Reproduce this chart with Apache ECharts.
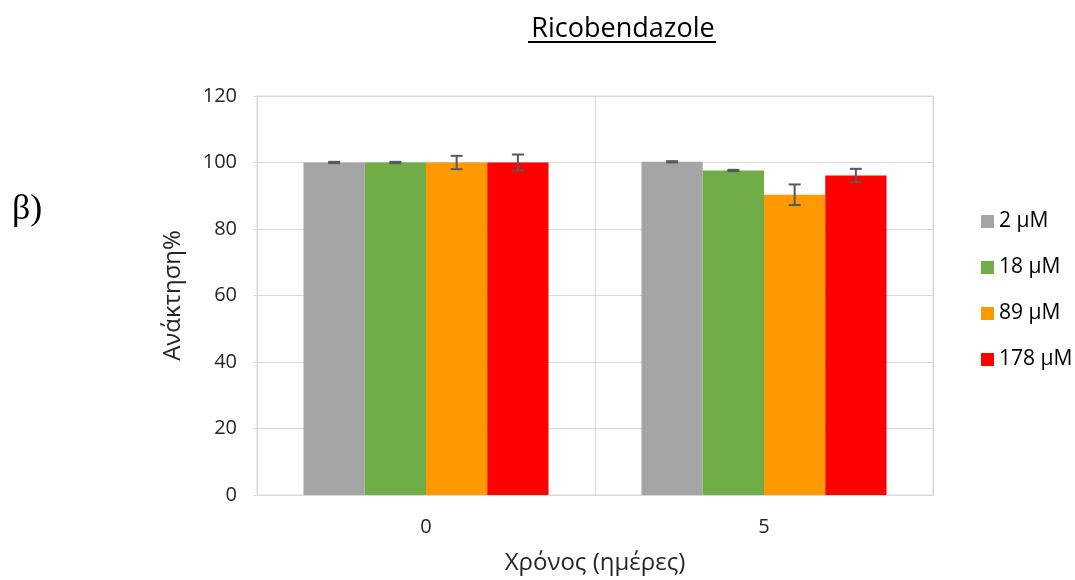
<!DOCTYPE html>
<html>
<head>
<meta charset="utf-8">
<script src="https://cdn.jsdelivr.net/npm/echarts@6/dist/echarts.min.js"></script>
<style>
  html, body { margin: 0; padding: 0; background: #fff; }
  #chart { width: 1075px; height: 580px; }
</style>
</head>
<body>
<div id="chart"></div>
<script>
// Recovery (%) of ricobendazole at each concentration over time
const days = ['0', '5'];
const seriesNames = ['2 μM', '18 μM', '89 μM', '178 μM'];
const recovery2 = [100.0, 100.2];
const recovery18 = [100.0, 97.6];
const recovery89 = [100.0, 90.3];
const recovery178 = [100.0, 96.1];
const error2 = [0.2, 0.2];
const error18 = [0.2, 0.2];
const error89 = [2.0, 3.1];
const error178 = [2.4, 2.0];
const yTicks = [0, 20, 40, 60, 80, 100, 120];

const values = [recovery2, recovery18, recovery89, recovery178];
const errors = [error2, error18, error89, error178];
const colors = ['#a5a5a5', '#70ad47', '#ff9900', '#ff0000'];
const categoryGap = 0.275;

const chart = echarts.init(document.getElementById('chart'));

const barSeries = seriesNames.map((name, i) => ({
  name: name,
  type: 'bar',
  data: values[i],
  barGap: '0%',
  barCategoryGap: (categoryGap * 100) + '%',
  itemStyle: { color: colors[i] },
  z: 2
}));

// Error whiskers drawn over each bar
const errorSeries = seriesNames.map((name, i) => ({
  name: name + ' err',
  type: 'custom',
  data: values[i].map((v, k) => [k, v - errors[i][k], v + errors[i][k]]),
  z: 5,
  silent: true,
  renderItem: function (params, api) {
    const band = api.size([1, 0])[0];
    const groupW = band * (1 - categoryGap);
    const barW = groupW / seriesNames.length;
    const off = -groupW / 2 + barW * (i + 0.5);
    const lo = api.coord([api.value(0), api.value(1)]);
    const hi = api.coord([api.value(0), api.value(2)]);
    const x = lo[0] + off;
    const cap = 6;
    const style = { stroke: '#595959', lineWidth: 2 };
    return {
      type: 'group',
      children: [
        { type: 'line', shape: { x1: x, y1: lo[1], x2: x, y2: hi[1] }, style: style },
        { type: 'line', shape: { x1: x - cap, y1: lo[1], x2: x + cap, y2: lo[1] }, style: style },
        { type: 'line', shape: { x1: x - cap, y1: hi[1], x2: x + cap, y2: hi[1] }, style: style }
      ]
    };
  }
}));

chart.setOption({
  animation: false,
  textStyle: { fontFamily: 'Open Sans' },
  title: {
    text: 'Ricobendazole',
    left: 618,
    textAlign: 'center',
    top: 11,
    textStyle: { fontFamily: 'Open Sans', fontSize: 27, fontWeight: 'normal', color: '#000' }
  },
  graphic: [
    { type: 'line', shape: { x1: 528, y1: 42, x2: 716, y2: 42 }, style: { stroke: '#000', lineWidth: 2 } },
    {
      type: 'text', left: 12, top: 192,
      style: { text: 'β)', font: '36px "Liberation Serif"', fill: '#000' }
    }
  ],
  legend: {
    orient: 'vertical',
    left: 976,
    top: 206,
    itemGap: 25,
    itemWidth: 13,
    itemHeight: 13,
    icon: 'rect',
    data: seriesNames,
    textStyle: { fontSize: 21, color: '#000', fontFamily: 'Open Sans' }
  },
  grid: {
    left: 257, right: 142, top: 96, bottom: 84,
    show: true, borderColor: '#d9d9d9', borderWidth: 1
  },
  xAxis: {
    type: 'category',
    data: days,
    name: 'Χρόνος (ημέρες)',
    nameLocation: 'middle',
    nameGap: 56,
    nameTextStyle: { fontSize: 24, color: '#262626' },
    axisLine: { lineStyle: { color: '#d9d9d9' } },
    axisTick: { show: false },
    splitLine: { show: true, lineStyle: { color: '#d9d9d9' } },
    axisLabel: { fontSize: 20, color: '#262626', margin: 22 }
  },
  yAxis: {
    type: 'value',
    min: yTicks[0],
    max: yTicks[yTicks.length - 1],
    interval: 20,
    name: 'Ανάκτηση%',
    nameLocation: 'middle',
    nameGap: 72,
    nameTextStyle: { fontSize: 24, color: '#262626' },
    axisLine: { show: true, lineStyle: { color: '#d9d9d9' } },
    axisTick: { show: true, length: 4, lineStyle: { color: '#d9d9d9' } },
    splitLine: { lineStyle: { color: '#d9d9d9' } },
    axisLabel: { fontSize: 20, color: '#262626', margin: 20 }
  },
  series: barSeries.concat(errorSeries)
});
</script>
</body>
</html>
